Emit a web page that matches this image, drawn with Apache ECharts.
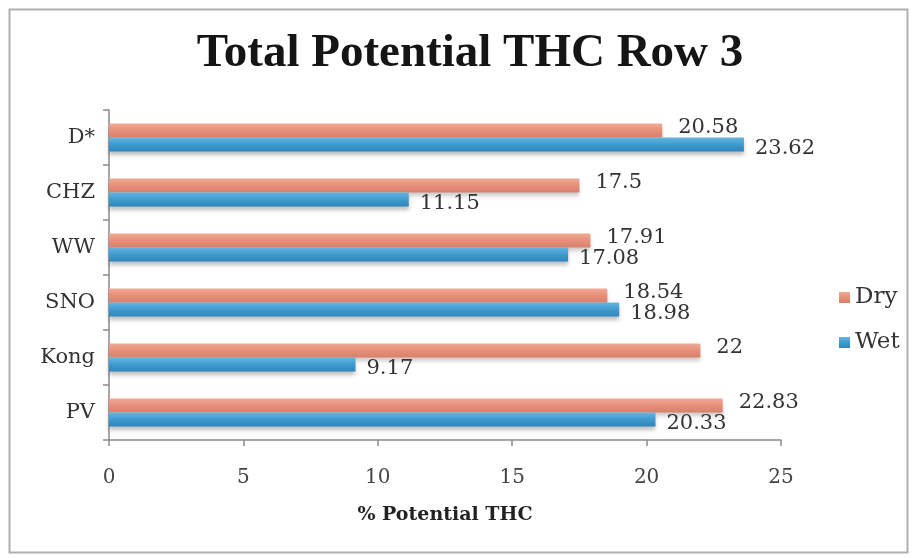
<!DOCTYPE html>
<html>
<head>
<meta charset="utf-8">
<script src="https://cdn.jsdelivr.net/npm/echarts@6/dist/echarts.min.js"></script>
<style>html,body{margin:0;padding:0;background:#fff}#c{width:912px;height:558px}</style>
</head>
<body>
<div id="c"></div>
<script>
const categories = ['PV', 'Kong', 'SNO', 'WW', 'CHZ', 'D*'];
const dryValues = [22.83, 22, 18.54, 17.91, 17.5, 20.58];
const wetValues = [20.33, 9.17, 18.98, 17.08, 11.15, 23.62];
const xTicks = [0, 5, 10, 15, 20, 25];

const chart = echarts.init(document.getElementById('c'));
const serif = '"DejaVu Serif", "Liberation Serif", serif';
const titleSerif = '"Liberation Serif", serif';
const labelStyle = {
  show: true, position: 'right',
  fontFamily: serif, fontSize: 21, color: '#333'
};
chart.setOption({
  animation: false,
  backgroundColor: '#fff',
  title: {
    text: 'Total Potential THC Row 3',
    left: 465, top: 25, textAlign: 'center',
    textStyle: { fontFamily: titleSerif, fontWeight: 'bold', fontSize: 47, color: '#151515' }
  },
  graphic: [{
    type: 'rect', left: 7, top: 7,
    shape: { width: 898, height: 543 },
    style: { fill: 'none', stroke: '#b0b0b0', lineWidth: 2 }
  }],
  legend: {
    data: ['Dry', 'Wet'],
    orient: 'vertical', left: 834, top: 281,
    itemWidth: 11, itemHeight: 11, itemGap: 22,
    icon: 'rect',
    textStyle: { fontFamily: serif, fontSize: 23, color: '#333' }
  },
  grid: { left: 109, right: 131, top: 110, bottom: 118, containLabel: false },
  xAxis: {
    type: 'value', min: xTicks[0], max: xTicks[xTicks.length - 1], interval: 5,
    name: '% Potential THC', nameLocation: 'middle', nameGap: 66,
    nameTextStyle: { fontFamily: serif, fontWeight: 'bold', fontSize: 19, color: '#222' },
    axisLine: { show: true, lineStyle: { color: '#8a8a8a', width: 1.5 } },
    axisTick: { show: true, length: 6, lineStyle: { color: '#8a8a8a', width: 1.5 } },
    axisLabel: { fontFamily: serif, fontSize: 20, color: '#444', margin: 28 },
    splitLine: { show: false }
  },
  yAxis: {
    type: 'category', data: categories,
    axisLine: { show: true, lineStyle: { color: '#8a8a8a', width: 1.5 } },
    axisTick: { show: true, length: 6, lineStyle: { color: '#8a8a8a', width: 1.5 } },
    axisLabel: { fontFamily: serif, fontSize: 21, color: '#333', margin: 14 }
  },
  series: [
    {
      name: 'Dry', type: 'bar', data: dryValues,
      barWidth: 14, barGap: '0%',
      itemStyle: {
        color: new echarts.graphic.LinearGradient(0, 0, 0, 1, [
          { offset: 0, color: '#f0a996' }, { offset: 0.5, color: '#e6907a' }, { offset: 1, color: '#d98068' }
        ]),
        shadowBlur: 4, shadowOffsetY: 3, shadowColor: 'rgba(0,0,0,0.2)'
      },
      label: Object.assign({}, labelStyle, { distance: 16, offset: [0, -3] })
    },
    {
      name: 'Wet', type: 'bar', data: wetValues,
      barWidth: 14, barGap: '0%',
      itemStyle: {
        color: new echarts.graphic.LinearGradient(0, 0, 0, 1, [
          { offset: 0, color: '#66b4df' }, { offset: 0.5, color: '#3f9bcf' }, { offset: 1, color: '#2f86bb' }
        ]),
        shadowBlur: 4, shadowOffsetY: 3, shadowColor: 'rgba(0,0,0,0.25)'
      },
      label: Object.assign({}, labelStyle, { distance: 11, offset: [0, 4] })
    }
  ]
});
</script>
</body>
</html>
